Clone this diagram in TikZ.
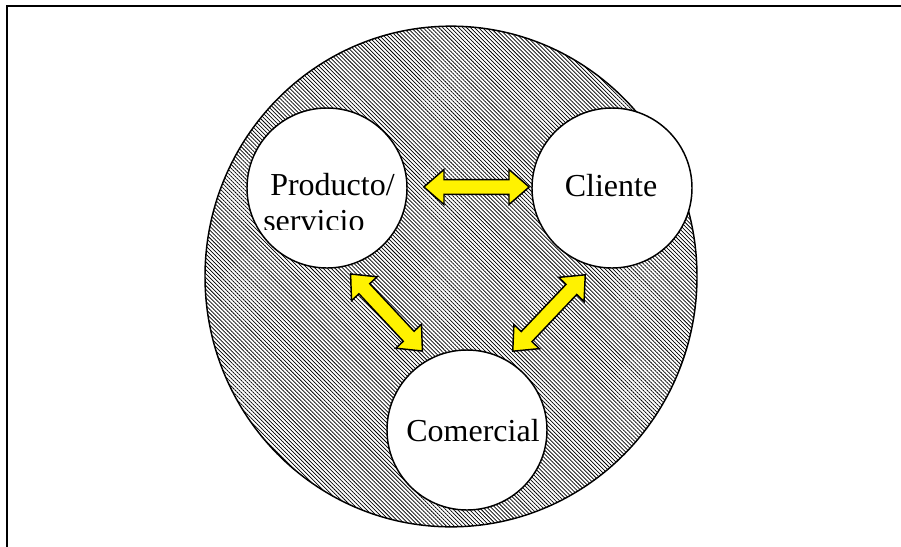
\documentclass[tikz,border=0pt]{standalone}
\usepackage{fontspec}
\setmainfont{Liberation Serif}
\usetikzlibrary{shapes.arrows,shapes.geometric,patterns.meta}

\tikzset{
  bola/.style={circle, draw, line width=1.1pt, fill=white, minimum size=120pt, inner sep=0pt},
  flecha/.style={double arrow, draw, line width=1.1pt, fill=yellow, minimum height=79pt,
    double arrow head extend=7.6pt, double arrow tip angle=82, inner xsep=0pt, inner ysep=5pt},
  rotulo/.style={font=\fontsize{24}{28}\selectfont, inner sep=0pt}
}

\begin{document}
\begin{tikzpicture}[x=0.75pt, y=-0.75pt]
\useasboundingbox (0,0) rectangle (901,547);
%\draw[very thin,color=gray] (0,0) grid[step=50] (901,547);
\draw[line width=1.5pt] (7,547) -- (7,6) -- (901,6);

% fondo rayado
\node[ellipse, draw, line width=1.1pt, minimum width=369pt, minimum height=375.5pt, inner sep=0pt,
  pattern={Lines[angle=-45,distance=2.1pt,line width=0.55pt]}] (entorno) at (451,276.5) {};

\node[bola] (prod) at (327,188) {};
\node[bola] (cli) at (612,188) {};
\node[bola] (com) at (467,430) {};

\node[rotulo, anchor=base west] (prodt) at (270,195) {Producto/};
\begin{scope}
  \clip (240,100) rectangle (420,229);
  \node[rotulo, anchor=base west] (servt) at (263,231) {servicio};
\end{scope}
\node[rotulo, anchor=base] (clit) at (611,196) {Cliente};
\node[rotulo, anchor=base] (comt) at (473,441) {Comercial};

% flechas
\node[flecha] (pc) at (476.5,187) {};
\node[flecha, rotate=-47] (pk) at (386.5,312.5) {};
\node[flecha, rotate=46.5] (ck) at (549,313) {};

\end{tikzpicture}
\end{document}
